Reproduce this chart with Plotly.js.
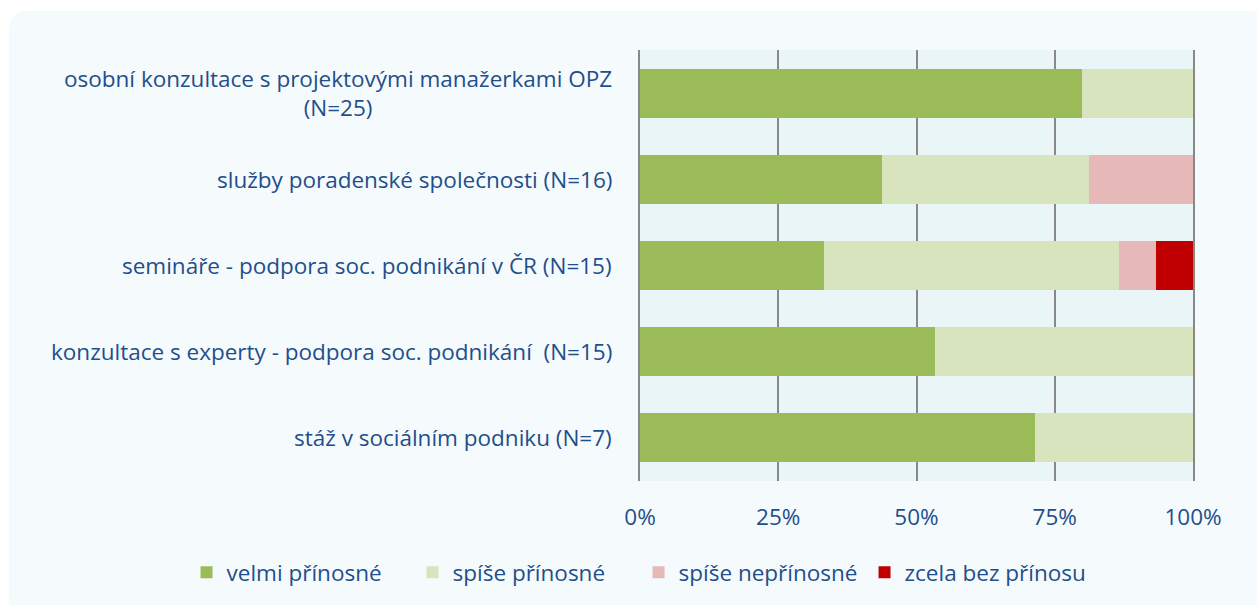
<!DOCTYPE html>
<html>
<head>
<meta charset="utf-8">
<script src="https://cdn.plot.ly/plotly-3.0.1.min.js"></script>
<style>
  html, body { margin: 0; padding: 0; background: #ffffff; }
  #card { position: absolute; left: 9px; top: 11px; width: 1260px; height: 610px;
          background: #f5fbfc; border-radius: 16px; }
  #chart { position: absolute; left: 0; top: 0; width: 1257px; height: 605px; }
</style>
</head>
<body>
<div id="card"></div>
<div id="chart"></div>
<script>
const categories = [
  "osobní konzultace s projektovými manažerkami OPZ<br>(N=25)",
  "služby poradenské společnosti (N=16)",
  "semináře - podpora soc. podnikání v ČR (N=15)",
  "konzultace s experty - podpora soc. podnikání  (N=15)",
  "stáž v sociálním podniku (N=7)"
];
const seriesNames = ["velmi přínosné", "spíše přínosné", "spíše nepřínosné", "zcela bez přínosu"];
const velmi = [80, 43.75, 33.33, 53.33, 71.43];
const spise = [20, 37.5, 53.33, 46.67, 28.57];
const spiseNe = [0, 18.75, 6.67, 0, 0];
const zcela = [0, 0, 6.67, 0, 0];
const xTicks = [0, 25, 50, 75, 100];
const xTickLabels = ["0%", "25%", "50%", "75%", "100%"];

const colors = ["#9bbb59", "#d7e4bd", "#e6b9b8", "#c00000"];
const values = [velmi, spise, spiseNe, zcela];
const textColor = "#1f4e8c";
const fontFamily = "'Open Sans', sans-serif";
const fontSize = 22.5;

const traces = values.map((v, i) => ({
  type: "bar",
  orientation: "h",
  name: seriesNames[i],
  x: v,
  y: categories,
  marker: { color: colors[i], line: { width: 0 } },
  hoverinfo: "x+name"
}));

const annotations = categories.map(c => ({
  xref: "paper", yref: "y", x: 0, y: c,
  xanchor: "right", yanchor: "middle", xshift: -26,
  align: "center", showarrow: false,
  text: c, font: { family: fontFamily, size: fontSize, color: textColor }
}));

const layout = {
  width: 1257, height: 605,
  margin: { l: 640, r: 64, t: 50, b: 123 },
  paper_bgcolor: "rgba(0,0,0,0)",
  plot_bgcolor: "#eaf5f8",
  barmode: "stack",
  bargap: 0.43,
  font: { family: fontFamily, size: fontSize, color: textColor },
  xaxis: {
    range: [0, 100], tickmode: "array", tickvals: xTicks, ticktext: xTickLabels,
    showgrid: true, gridcolor: "#888888", gridwidth: 2,
    zeroline: false, showline: false, ticks: "",
    ticklabelstandoff: 20, fixedrange: true
  },
  yaxis: {
    type: "category", autorange: "reversed",
    showticklabels: false, showgrid: false, zeroline: false, ticks: "",
    showline: true, mirror: true, linecolor: "#888888", linewidth: 2
  },
  annotations: annotations,
  showlegend: true,
  legend: {
    orientation: "h", xref: "paper", yref: "paper",
    x: -0.82, xanchor: "left",
    y: -0.21, yanchor: "middle",
    font: { family: fontFamily, size: fontSize, color: textColor },
    traceorder: "normal", bgcolor: "rgba(0,0,0,0)", itemwidth: 30,
    entrywidth: 181, entrywidthmode: "pixels"
  }
};

Plotly.newPlot("chart", traces, layout, { displayModeBar: false, staticPlot: true });
</script>
</body>
</html>
